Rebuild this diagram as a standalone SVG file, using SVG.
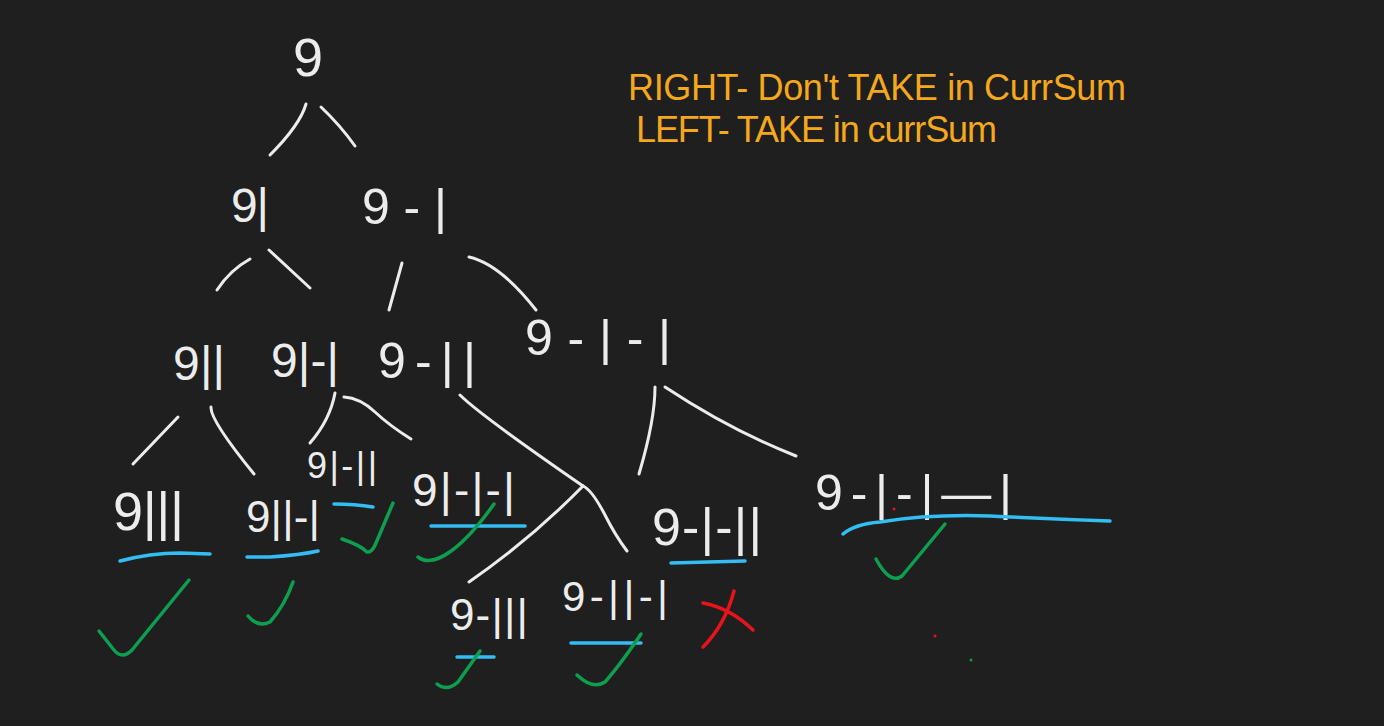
<svg xmlns="http://www.w3.org/2000/svg" width="1384" height="726" viewBox="0 0 1384 726">
<style>
.n{font-family:"Liberation Sans","DejaVu Sans",sans-serif;fill:#ececec;}
.e{fill:none;stroke:#ececec;stroke-width:3;stroke-linecap:round;stroke-linejoin:round;}
.u{fill:none;stroke:#33bdf2;stroke-width:3.5;stroke-linecap:round;}
.c{fill:none;stroke:#0d9f4f;stroke-width:3.5;stroke-linecap:round;stroke-linejoin:round;}
.x{fill:none;stroke:#e8141c;stroke-width:3.5;stroke-linecap:round;}
.o{font-family:"Liberation Sans","DejaVu Sans",sans-serif;fill:#f5a81c;font-size:36px;}
</style>
<rect width="1384" height="726" fill="#1f1f1f"/>
<g id="legend">
<text class="o" x="628" y="100" textLength="498">RIGHT- Don't TAKE in CurrSum</text>
<text class="o" x="636" y="142" textLength="361">LEFT- TAKE in currSum</text>
</g>
<g id="connectors">
<path class="e" d="M306,104 Q300,125 270,155"/>
<path class="e" d="M321,107 Q340,125 355,146"/>
<path class="e" d="M250,259 Q230,270 217,290"/>
<path class="e" d="M269,250 L310,288"/>
<path class="e" d="M402,263 L389,310"/>
<path class="e" d="M469,257 Q500,264 536,310"/>
<path class="e" d="M178,417 L133,464"/>
<path class="e" d="M211,407 Q210,420 254,474"/>
<path class="e" d="M335,393 Q330,420 310,443"/>
<path class="e" d="M344,397 Q360,398 375,412 Q390,426 411,439"/>
<path class="e" d="M460,395 Q480,415 583,486"/>
<path class="e" d="M583,486 Q530,540 469,582"/>
<path class="e" d="M583,486 Q592,490 605,515 Q615,535 627,551"/>
<path class="e" d="M655,387 Q655,420 639,474"/>
<path class="e" d="M665,387 Q730,430 796,456"/>
</g>
<g id="n1"><text class="n" x="293" y="76" font-size="54" textLength="29">9</text></g>
<g id="n2"><text class="n" x="231" y="222" font-size="48" textLength="38">9|</text></g>
<g id="n3"><text class="n" x="362" y="224" font-size="50" textLength="85">9-|</text></g>
<g id="n4"><text class="n" x="173" y="380" font-size="48" textLength="52">9||</text></g>
<g id="n5"><text class="n" x="271" y="377" font-size="48" textLength="68">9|-|</text></g>
<g id="n6"><text class="n" x="378" y="378" font-size="50" textLength="98">9-||</text></g>
<g id="n7"><text class="n" x="525" y="355" font-size="50" textLength="146">9-|-|</text></g>
<g id="n8"><text class="n" x="113" y="530" font-size="54" textLength="71">9|||</text>
<path class="u" d="M120,561 Q150,553 180,553 L210,554"/>
<path class="c" d="M99,631 L114,650 Q122,660 132,650 L189,580"/></g>
<g id="n9"><text class="n" x="246" y="532" font-size="44" textLength="74">9||-|</text>
<path class="u" d="M247,557 L270,557 Q300,555 318,551"/>
<path class="c" d="M248,616 Q258,628 270,622 Q285,605 293,582"/></g>
<g id="n10"><text class="n" x="307" y="478" font-size="36" textLength="70">9|-||</text>
<path class="u" d="M334,504 Q355,504 373,507"/>
<path class="c" d="M342,539 Q360,545 367,552 Q372,553 376,543 L393,503"/></g>
<g id="n11"><text class="n" x="412" y="506" font-size="46" textLength="103">9|-|-|</text>
<path class="u" d="M431,526 L525,526"/>
<path class="c" d="M418,557 C435,570 465,545 494,504"/></g>
<g id="n12"><text class="n" x="450" y="630" font-size="44" textLength="78">9-|||</text>
<path class="u" d="M457,657 L494,657"/>
<path class="c" d="M437,684 Q447,692 458,682 L480,651"/></g>
<g id="n13"><text class="n" x="562" y="611" font-size="42" textLength="106">9-||-|</text>
<path class="u" d="M571,643 L641,643"/>
<path class="c" d="M577,675 Q593,690 605,682 Q620,665 641,634"/></g>
<g id="n14"><text class="n" x="652" y="545" font-size="52" textLength="110">9-|-||</text>
<path class="u" d="M671,563 L745,561"/>
<path class="x" d="M703,603 Q730,608 753,630"/>
<path class="x" d="M734,591 Q725,625 703,647"/></g>
<g id="n15"><text class="n" x="815" y="510" font-size="50" textLength="197">9-|-|—|</text>
<path class="u" d="M843,534 Q855,524 880,522 Q930,514 990,516 Q1050,519 1110,521"/>
<path class="c" d="M876,559 Q890,585 902,576 L945,524"/>
<circle cx="894" cy="509" r="1.5" fill="#e8141c"/>
<circle cx="935" cy="636" r="1.5" fill="#e8141c"/>
<circle cx="971" cy="660" r="1.5" fill="#0d9f4f"/></g>
</svg>
